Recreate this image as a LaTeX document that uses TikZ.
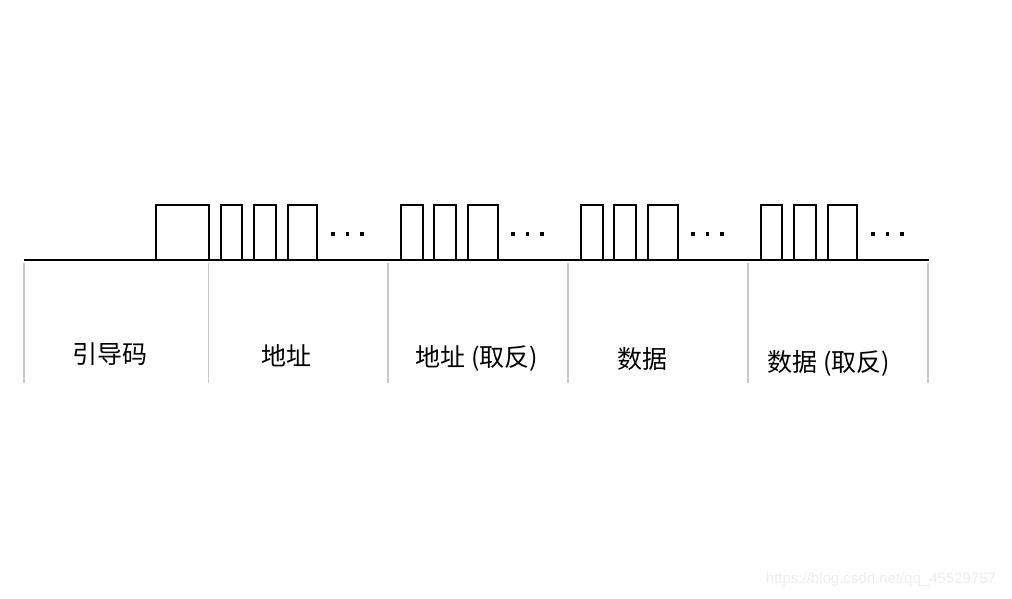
\documentclass[tikz,border=0pt]{standalone}
\usepackage{fontspec}
\newfontfamily\cjk{Noto Sans CJK SC}
\newfontfamily\wmfont{Liberation Sans}
\begin{document}
\begin{tikzpicture}[x=1pt,y=-1pt,
  wave/.style={line width=1.5pt,black},
  sepline/.style={line width=1.3pt,black!22},
  lbl/.style={font=\cjk\fontsize{25}{28}\selectfont,inner sep=0pt,anchor=center},
  dotmark/.style={fill=black,rectangle,minimum size=3.6pt,inner sep=0pt}]
\useasboundingbox (0,0) rectangle (1012,599);
% baseline
\coordinate (bl) at (24,260);
\coordinate (br) at (929,260);
\draw[wave] (bl) -- (br);
% pulses
\foreach \a/\b in {156/209,221/242,254/276,288/317,401/423,434/456,468/498,581/603,614/636,648/678,761/782,794/816,828/857}{
  \draw[wave,line join=miter] (\a,260) -- (\a,205) -- (\b,205) -- (\b,260);
}
% dots
\foreach \s in {333,513,693,873}{
  \foreach \k in {0,1,2}{
    \node[dotmark] at ({\s+14.5*\k},234) {};
  }
}
% separators
\foreach \x in {24,208.5,388,568,748,928}{
  \draw[sepline] (\x,263) -- (\x,383);
}
% labels
\node[lbl] (l1) at (110,354) {引导码};
\node[lbl] (l2) at (286,356) {地址};
\node[lbl] (l3) at (477,358) {地址 (取反)};
\node[lbl] (l4) at (642,359) {数据};
\node[lbl] (l5) at (829,363) {数据 (取反)};
% watermark
\node[font=\wmfont\fontsize{15}{17}\selectfont,text=black!7,inner sep=0pt] (wm) at (881,580) {https://blog.csdn.net/qq\_45529757};
\end{tikzpicture}
\end{document}
